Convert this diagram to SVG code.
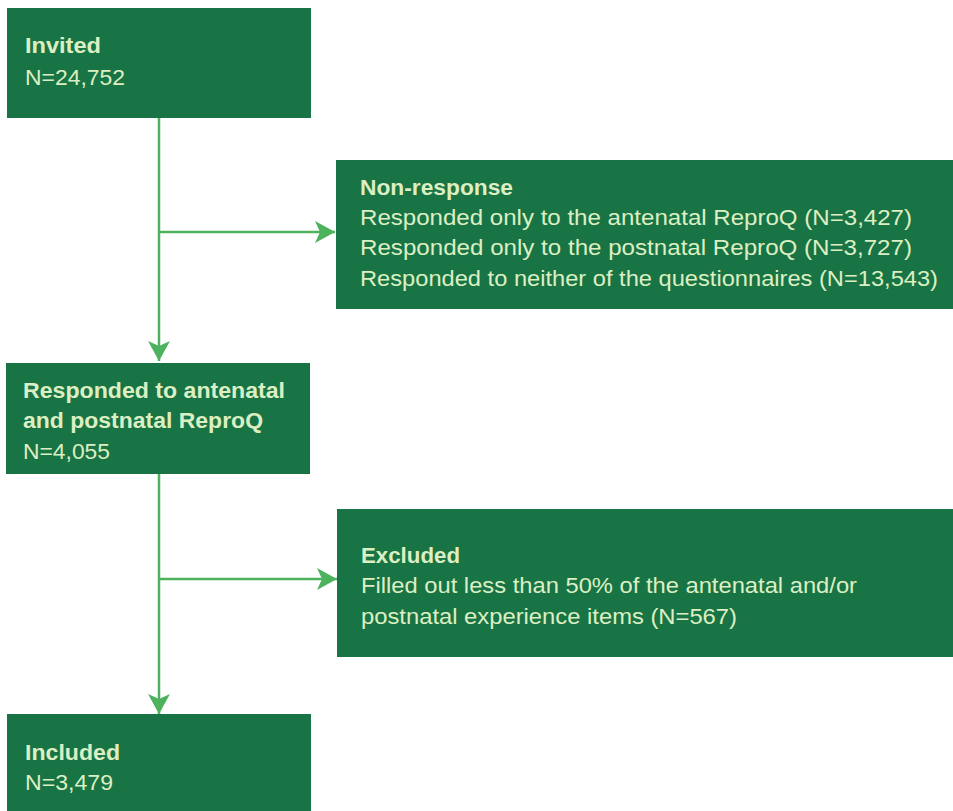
<svg xmlns="http://www.w3.org/2000/svg" width="953" height="811" viewBox="0 0 953 811">
<style>
.box{fill:#187445}
.t{font-family:"Liberation Sans",Arial,sans-serif;font-size:22px;fill:#dcefc3}
.b{font-weight:bold}
.c{stroke:#4cb25e;stroke-width:2.5;fill:none}
</style>
<defs>
<marker id="ah" markerWidth="22" markerHeight="22" viewBox="0 0 22 22" refX="20" refY="11" orient="auto" markerUnits="userSpaceOnUse">
<path d="M0,0 L20,11 L0,22 L5,11 Z" fill="#4cb25e"/>
</marker>
</defs>
<rect width="953" height="811" fill="#ffffff"/>
<g id="connectors">
<line class="c" x1="159" y1="118" x2="159" y2="361" marker-end="url(#ah)"/>
<line class="c" x1="159" y1="232" x2="335" y2="232" marker-end="url(#ah)"/>
<line class="c" x1="159" y1="474" x2="159" y2="714" marker-end="url(#ah)"/>
<line class="c" x1="159" y1="579" x2="337" y2="579" marker-end="url(#ah)"/>
</g>
<g id="invited">
<rect class="box" x="7" y="8" width="304" height="110"/>
<text class="t b" x="25" y="53" textLength="76" lengthAdjust="spacingAndGlyphs">Invited</text>
<text class="t" x="25" y="85" textLength="100" lengthAdjust="spacingAndGlyphs">N=24,752</text>
</g>
<g id="nonresponse">
<rect class="box" x="336" y="160" width="617" height="149"/>
<text class="t b" x="360" y="195" textLength="153" lengthAdjust="spacingAndGlyphs">Non-response</text>
<text class="t" x="360" y="225" textLength="552" lengthAdjust="spacingAndGlyphs">Responded only to the antenatal ReproQ (N=3,427)</text>
<text class="t" x="360" y="255" textLength="552" lengthAdjust="spacingAndGlyphs">Responded only to the postnatal ReproQ (N=3,727)</text>
<text class="t" x="360" y="286" textLength="578" lengthAdjust="spacingAndGlyphs">Responded to neither of the questionnaires (N=13,543)</text>
</g>
<g id="responded">
<rect class="box" x="6" y="363" width="304" height="111"/>
<text class="t b" x="23" y="398" textLength="262" lengthAdjust="spacingAndGlyphs">Responded to antenatal</text>
<text class="t b" x="23" y="428" textLength="240" lengthAdjust="spacingAndGlyphs">and postnatal ReproQ</text>
<text class="t" x="23" y="459" textLength="87" lengthAdjust="spacingAndGlyphs">N=4,055</text>
</g>
<g id="excluded">
<rect class="box" x="337" y="509" width="616" height="148"/>
<text class="t b" x="361" y="563" textLength="99" lengthAdjust="spacingAndGlyphs">Excluded</text>
<text class="t" x="361" y="593" textLength="496" lengthAdjust="spacingAndGlyphs">Filled out less than 50% of the antenatal and/or</text>
<text class="t" x="361" y="624" textLength="376" lengthAdjust="spacingAndGlyphs">postnatal experience items (N=567)</text>
</g>
<g id="included">
<rect class="box" x="7" y="714" width="304" height="97"/>
<text class="t b" x="25" y="760" textLength="95" lengthAdjust="spacingAndGlyphs">Included</text>
<text class="t" x="25" y="790" textLength="88" lengthAdjust="spacingAndGlyphs">N=3,479</text>
</g>
</svg>
